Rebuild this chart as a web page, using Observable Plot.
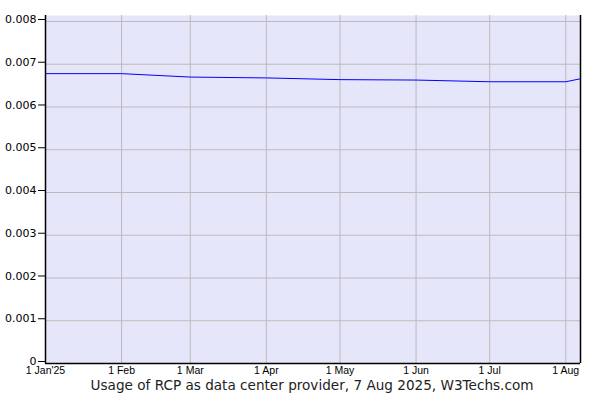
<!DOCTYPE html>
<html>
<head>
<meta charset="utf-8">
<script src="https://cdn.jsdelivr.net/npm/d3@7"></script>
<script src="https://cdn.jsdelivr.net/npm/@observablehq/plot@0.6"></script>
<style>
  html, body { margin: 0; padding: 0; background: #fff; }
</style>
</head>
<body>
<div id="chart"></div>
<script>
const dates = ["2025-01-01","2025-02-01","2025-03-01","2025-04-01","2025-05-01","2025-06-01","2025-07-01","2025-08-01","2025-08-07"];
const values = [0.00678, 0.00678, 0.00670, 0.00668, 0.00664, 0.00663, 0.00659, 0.00659, 0.00666];
const xTickDates = ["2025-01-01","2025-02-01","2025-03-01","2025-04-01","2025-05-01","2025-06-01","2025-07-01","2025-08-01"];
const xTickLabels = ["1 Jan'25","1 Feb","1 Mar","1 Apr","1 May","1 Jun","1 Jul","1 Aug"];
const yTicks = [0, 0.001, 0.002, 0.003, 0.004, 0.005, 0.006, 0.007, 0.008];
const yTickLabels = ["0","0.001","0.002","0.003","0.004","0.005","0.006","0.007","0.008"];
const title = "Usage of RCP as data center provider, 7 Aug 2025, W3Techs.com";

const data = dates.map((d, i) => ({date: new Date(d + "T00:00:00Z"), value: values[i]}));
const xTicks = xTickDates.map(d => new Date(d + "T00:00:00Z"));
const xStart = new Date("2025-01-01T00:00:00Z");
const xEnd = new Date("2025-08-07T00:00:00Z");

const chart = Plot.plot({
  width: 600,
  height: 400,
  marginLeft: 45,
  marginRight: 20,
  marginTop: 15,
  marginBottom: 37,
  style: {background: "#fff", overflow: "visible"},
  x: {type: "utc", domain: [xStart, xEnd]},
  y: {domain: [0, 0.00814]},
  marks: [
    Plot.frame({fill: "#e6e6fa", stroke: null}),
    Plot.gridY(yTicks, {stroke: "#bbbbbb", strokeOpacity: 1}),
    Plot.gridX(xTicks, {stroke: "#bbbbbb", strokeOpacity: 1}),
    Plot.axisY(yTicks, {
      tickSize: 7,
      tickPadding: 2,
      tickFormat: (d, i) => yTickLabels[i],
      fontSize: 11,
      fontFamily: "DejaVu Sans",
      fill: "#000",
      dy: -2,
      label: null
    }),
    Plot.axisX(xTicks, {
      tickSize: 0,
      tickPadding: 3,
      tickFormat: (d, i) => xTickLabels[i],
      fontSize: 10.5,
      fontFamily: "Liberation Sans, Arial",
      fill: "#000",
      label: null
    }),
    Plot.line(data, {x: "date", y: "value", stroke: "#0000ff", strokeWidth: 1}),
    Plot.ruleX([xStart], {stroke: "#000", strokeWidth: 1.5}),
    Plot.ruleX([xEnd], {stroke: "#000", strokeWidth: 1.5}),
    Plot.ruleY([0], {stroke: "#000", strokeWidth: 1.5}),
    Plot.text([title], {
      frameAnchor: "bottom",
      dy: 26,
      dx: -1,
      text: d => d,
      fontSize: 13.6,
      fontFamily: "DejaVu Sans",
      fill: "#222"
    })
  ]
});
document.getElementById("chart").appendChild(chart);
</script>
</body>
</html>
